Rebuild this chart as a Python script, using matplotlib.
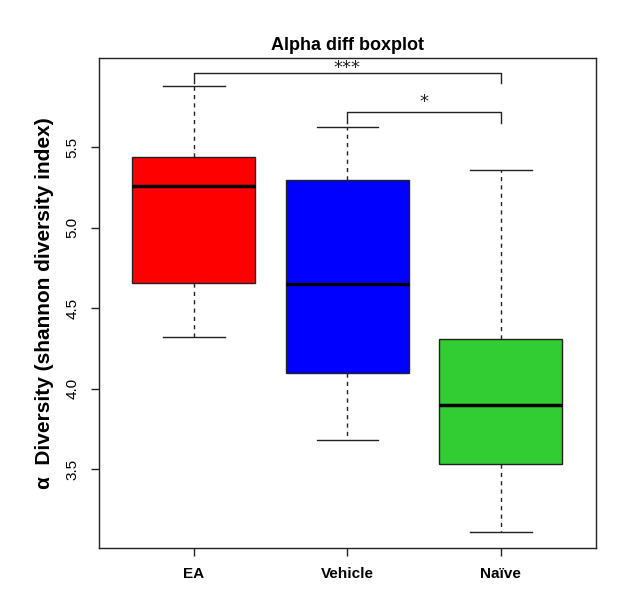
import matplotlib.pyplot as plt

plt.rcParams['font.family'] = ['Liberation Sans', 'DejaVu Sans']

groups = ['EA', 'Vehicle', 'Naïve']
colors = ['#FF0000', '#0000FF', '#32CD32']
whislo = [4.32, 3.68, 3.11]
q1 = [4.66, 4.10, 3.53]
med = [5.26, 4.65, 3.90]
q3 = [5.44, 5.30, 4.31]
whishi = [5.88, 5.63, 5.36]

# significance brackets: (group a, group b, bar height, end height, label, label y)
sig = [(0, 2, 5.96, 5.90, '***', 5.995),
       (1, 2, 5.72, 5.65, '*', 5.78)]

stats = []
for i in range(len(groups)):
    stats.append(dict(label=groups[i], whislo=whislo[i], q1=q1[i], med=med[i],
                      q3=q3[i], whishi=whishi[i], fliers=[]))

fig = plt.figure(figsize=(6.17, 5.94), dpi=100)
ax = fig.add_axes([0.16, 0.0774, 0.806, 0.8246])

pos = [1, 2, 3]
bp = ax.bxp(stats, positions=pos, widths=0.8, patch_artist=True,
            boxprops=dict(edgecolor='#222222', linewidth=1),
            medianprops=dict(color='black', linewidth=2.5),
            whiskerprops=dict(color='#222222', linestyle=(0, (3, 3)), linewidth=1),
            capprops=dict(color='#222222', linewidth=1),
            capwidths=0.4)
for patch, c in zip(bp['boxes'], colors):
    patch.set_facecolor(c)

for a, b, h, e, lab, ly in sig:
    xa, xb = pos[a], pos[b]
    ax.plot([xa, xa, xb, xb], [e, h, h, e], color='#222222', linewidth=1)
    ax.text((xa + xb) / 2, ly, lab, ha='center', va='center', fontsize=13,
            family='DejaVu Sans', color='#222222')

ax.set_xlim(0.38, 3.62)
ax.set_ylim(3.009, 6.055)
ax.set_xticks(pos)
ax.set_xticklabels(groups, fontweight='bold', fontsize=11)
ax.set_yticks([3.5, 4.0, 4.5, 5.0, 5.5])
ax.set_yticklabels(['3.5', '4.0', '4.5', '5.0', '5.5'], rotation=90, va='center', fontsize=11)
ax.tick_params(length=6, width=1, color='#222222', pad=8)
ax.tick_params(axis='x', pad=8)
ax.set_ylabel('α  Diversity (shannon diversity index)', fontweight='bold', fontsize=15, labelpad=8)
ax.set_title('Alpha diff boxplot', fontweight='bold', fontsize=13, pad=6)
for s in ax.spines.values():
    s.set_color('#222222')
    s.set_linewidth(1)

fig.savefig('out.png', dpi=100)
